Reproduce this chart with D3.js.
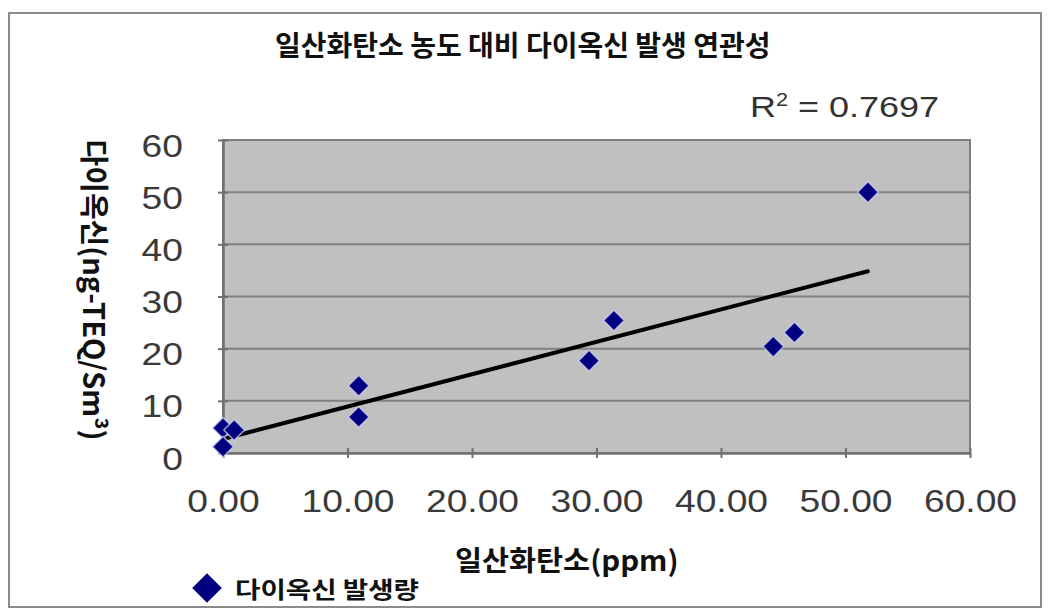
<!DOCTYPE html>
<html><head><meta charset="utf-8">
<script src="https://cdn.jsdelivr.net/npm/d3@7"></script>
<style>body{margin:0;background:#fff}svg{display:block}</style>
</head><body><svg id="c" width="1050" height="614"></svg>
<script>
// ---- data ----
const coPpm   = [0.0, 0.9, 0.0, 10.9, 10.9, 29.4, 31.4, 44.2, 45.9, 51.8];
const dioxin  = [4.8, 4.4, 1.2, 12.9, 6.9, 17.7, 25.4, 20.4, 23.1, 50.0];
const xTicks  = [0, 10, 20, 30, 40, 50, 60];
const yTicks  = [0, 10, 20, 30, 40, 50, 60];
const chartTitle = "일산화탄소 농도 대비 다이옥신 발생 연관성";
const xTitle = "일산화탄소(ppm)";
const yTitle = "다이옥신(ng-TEQ/Sm³)";
const seriesName = "다이옥신 발생량";
const rSquared = "0.7697";

const svg = d3.select("#c");
const KR = "'Noto Sans CJK KR','Noto Sans',sans-serif";
const LAT = "'Liberation Sans',Arial,sans-serif";
const SX = 1.2;

// frame
svg.append("rect").attr("x",9).attr("y",13).attr("width",1032).attr("height",594)
  .attr("fill","#fff").attr("stroke","#8c8c8c").attr("stroke-width",2);

const x = d3.scaleLinear().domain([0,60]).range([223,970]);
const y = d3.scaleLinear().domain([0,60]).range([453,140]);

// plot area
svg.append("rect").attr("x",x(0)).attr("y",y(60)).attr("width",x(60)-x(0)).attr("height",y(0)-y(60))
  .attr("fill","#c0c0c0").attr("stroke","#808080").attr("stroke-width",2);

// grid
svg.append("g").selectAll("line").data(yTicks.filter(d=>d>0&&d<60)).join("line")
  .attr("x1",x(0)).attr("x2",x(60)).attr("y1",d=>y(d)).attr("y2",d=>y(d))
  .attr("stroke","#808080").attr("stroke-width",2);

// axes
const gx = svg.append("g").attr("transform",`translate(0,${y(0)})`)
  .call(d3.axisBottom(x).tickValues(xTicks).tickFormat(d3.format(".2f")).tickSizeOuter(0));
gx.select(".domain").attr("stroke","#707070").attr("stroke-width",2.5);
gx.selectAll(".tick line").attr("y1",-5).attr("y2",5).attr("stroke","#707070").attr("stroke-width",2);
gx.selectAll(".tick text").attr("y",0).attr("dy",null)
  .attr("transform",`translate(0,59) scale(${SX},1)`)
  .attr("text-anchor","middle").style("font-family",LAT).style("font-size","31px").attr("fill","#3a3a3a");

const gy = svg.append("g").attr("transform",`translate(${x(0)},0)`)
  .call(d3.axisLeft(y).tickValues(yTicks).tickFormat(d3.format("d")).tickSizeOuter(0));
gy.select(".domain").attr("stroke","#707070").attr("stroke-width",2.5);
gy.selectAll(".tick line").attr("x1",-5).attr("x2",5).attr("stroke","#707070").attr("stroke-width",2);
gy.selectAll(".tick text").attr("x",0).attr("dy",null)
  .attr("transform",`translate(-40,16) scale(${SX},1)`)
  .attr("text-anchor","end").style("font-family",LAT).style("font-size","31px").attr("fill","#3a3a3a");
svg.selectAll(".tick text").attr("dominant-baseline",null);

// trend line (least squares from the data)
const pts = coPpm.map((v,i)=>({x:v,y:dioxin[i]}));
const mx = d3.mean(coPpm), my = d3.mean(dioxin);
const slope = d3.sum(pts,p=>(p.x-mx)*(p.y-my)) / d3.sum(pts,p=>(p.x-mx)**2);
const icpt = my - slope*mx;
const xr = [0, d3.max(coPpm)];
svg.append("path").datum(xr.map(v=>[v, icpt+slope*v]))
  .attr("d", d3.line().x(d=>x(d[0])).y(d=>y(d[1])))
  .attr("stroke","#000").attr("stroke-width",4).attr("stroke-linecap","round").attr("fill","none");

// markers
const diamond = d3.symbol().type(d3.symbolSquare).size(215);
svg.append("g").selectAll("path").data(pts).join("path")
  .attr("d",diamond)
  .attr("transform",d=>`translate(${x(d.x)},${y(d.y)}) rotate(45)`)
  .attr("fill","#000080").attr("stroke","rgba(215,215,250,0.7)").attr("stroke-width",1.5);

// title
svg.append("text").attr("x",275).attr("y",56).text(chartTitle)
  .style("font-family",KR).style("font-weight","bold").style("font-size","28px").attr("fill","#111");

// R^2
const rt = svg.append("text").attr("transform",`translate(750,117) scale(${SX},1)`)
  .style("font-family",LAT).style("font-size","30px").attr("fill","#333");
rt.append("tspan").text("R");
rt.append("tspan").attr("dy",-11).style("font-size","18px").text("2");
rt.append("tspan").attr("dy",11).text(" = " + rSquared);

// axis titles
svg.append("text").attr("transform",`translate(${x(0)+232},571) scale(1.05,1)`).text(xTitle)
  .style("font-family",KR).style("font-weight","bold").style("font-size","28px").attr("fill","#111");
svg.append("text").attr("transform","translate(96,290) rotate(90)").attr("text-anchor","middle")
  .attr("dominant-baseline","central").text(yTitle)
  .style("font-family",KR).style("font-weight","bold").style("font-size","29px").attr("fill","#111");

// legend
svg.append("path").attr("d",d3.symbol().type(d3.symbolSquare).size(440))
  .attr("transform","translate(207,588) rotate(45)").attr("fill","#000080");
svg.append("text").attr("transform",`translate(235,598) scale(${SX},1)`).text(seriesName)
  .style("font-family",KR).style("font-weight","bold").style("font-size","23px").attr("fill","#111");
</script></body></html>
